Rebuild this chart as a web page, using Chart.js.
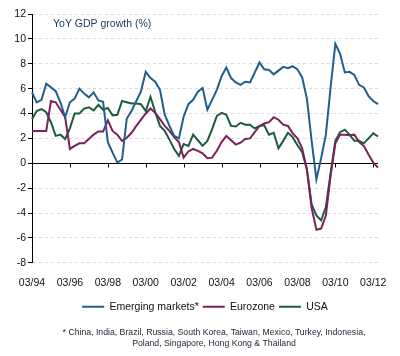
<!DOCTYPE html>
<html><head><meta charset="utf-8">
<script src="https://cdn.jsdelivr.net/npm/chart.js@4.4.0/dist/chart.umd.min.js"></script>
<style>html,body{margin:0;padding:0;background:#fff}</style>
</head><body>
<canvas id="c" width="400" height="356"></canvas>
<script>
const quarters = [
 "03/94","06/94","09/94","12/94","03/95","06/95","09/95","12/95",
 "03/96","06/96","09/96","12/96","03/97","06/97","09/97","12/97",
 "03/98","06/98","09/98","12/98","03/99","06/99","09/99","12/99",
 "03/00","06/00","09/00","12/00","03/01","06/01","09/01","12/01",
 "03/02","06/02","09/02","12/02","03/03","06/03","09/03","12/03",
 "03/04","06/04","09/04","12/04","03/05","06/05","09/05","12/05",
 "03/06","06/06","09/06","12/06","03/07","06/07","09/07","12/07",
 "03/08","06/08","09/08","12/08","03/09","06/09","09/09","12/09",
 "03/10","06/10","09/10","12/10","03/11","06/11","09/11","12/11",
 "03/12","06/12"];
const shownTicks = ["03/94","03/96","03/98","03/00","03/02","03/04","03/06","03/08","03/10","03/12"];
const emerging = [
 5.7,4.9,5.1,6.4,6.1,5.8,4.9,3.7,
 4.9,5.2,6.0,5.6,5.3,5.7,5.05,4.95,
 1.7,0.85,0.05,0.3,3.6,4.2,5.0,5.8,
 7.35,6.85,6.55,5.9,3.9,3.0,2.2,2.0,
 3.75,4.75,5.1,5.75,6.05,4.3,5.1,5.9,
 7.0,7.7,6.85,6.5,6.3,6.55,6.5,7.3,
 8.1,7.55,7.5,7.15,7.45,7.75,7.65,7.8,
 7.55,6.9,5.2,1.8,-1.3,0.4,2.3,6.1,
 9.6,8.8,7.3,7.35,7.1,6.3,6.1,5.4,
 5.0,4.75];
const eurozone = [
 2.6,2.6,2.6,2.6,5.0,4.9,4.3,3.7,
 1.15,1.4,1.6,1.6,1.95,2.3,2.55,2.55,
 3.45,2.6,2.3,1.8,2.05,2.45,3.0,3.5,
 4.0,4.4,4.05,3.55,3.0,2.6,2.1,1.7,
 0.45,0.95,1.15,1.0,0.8,0.4,0.45,1.0,
 1.7,2.2,1.85,1.5,1.65,1.95,2.0,2.5,
 3.0,3.2,3.3,3.7,3.5,3.1,3.0,2.4,
 2.0,1.2,-0.5,-3.6,-5.35,-5.25,-4.2,-1.0,
 1.6,2.3,2.3,2.25,2.3,1.7,1.4,0.7,
 0.05,-0.35];
const usa = [
 3.55,4.2,4.35,4.1,3.3,2.2,2.3,1.95,
 2.8,4.0,4.0,4.4,4.5,4.25,4.7,4.3,
 4.45,3.85,3.9,5.0,4.9,4.8,4.8,4.75,
 4.2,5.35,4.1,3.0,2.6,1.9,1.15,0.6,
 1.55,1.4,2.3,1.85,1.4,1.8,2.75,3.8,
 4.05,3.9,3.0,2.95,3.25,3.1,3.1,2.8,
 3.0,3.05,2.3,2.45,1.2,1.8,2.45,2.1,
 1.45,0.9,-0.5,-3.3,-4.2,-4.6,-3.5,-0.8,
 1.8,2.5,2.7,2.3,1.8,1.8,1.6,2.0,
 2.4,2.15];
const seriesNames = ["Emerging markets*","Eurozone","USA"];
const seriesColors = ["#1f5e8e","#7a2259","#1d5b3e"];
const chartTitle = "YoY GDP growth (%)";
const footnote = ["* China, India, Brazil, Russia, South Korea, Taiwan, Mexico, Turkey, Indonesia,",
                  "Poland, Singapore, Hong Kong & Thailand"];

const FONT = "'Liberation Sans', Arial, sans-serif";
const textColor = "#111";

const decor = {
  id: 'decor',
  beforeDatasetsDraw(chart) {
    const {ctx, chartArea, scales} = chart;
    const y0 = scales.y.getPixelForValue(0);
    ctx.save();
    ctx.strokeStyle = '#000';
    ctx.lineWidth = 1;
    ctx.beginPath();
    ctx.moveTo(chartArea.left, Math.round(y0) + 0.5);
    ctx.lineTo(chartArea.right, Math.round(y0) + 0.5);
    quarters.forEach((q, i) => {
      if (shownTicks.includes(q)) {
        const x = Math.round(scales.x.getPixelForValue(i)) + 0.5;
        ctx.moveTo(x, Math.round(y0) + 0.5);
        ctx.lineTo(x, Math.round(y0) + 4.5);
      }
    });
    ctx.stroke();
    ctx.restore();
  },
  afterDraw(chart) {
    const {ctx} = chart;
    ctx.save();
    ctx.fillStyle = '#17375e';
    ctx.font = "10.5px " + FONT;
    ctx.textAlign = 'left';
    ctx.textBaseline = 'middle';
    ctx.fillText(chartTitle, 53, 24);
    ctx.fillStyle = '#1a2233';
    ctx.font = "8.7px " + FONT;
    ctx.textAlign = 'center';
    ctx.fillText(footnote[0], 214, 332.5);
    ctx.fillText(footnote[1], 214, 343.5);
    ctx.restore();
  }
};

new Chart(document.getElementById('c'), {
  type: 'line',
  data: {
    labels: quarters,
    datasets: [emerging, eurozone, usa].map((d, i) => ({
      label: seriesNames[i], data: d,
      borderColor: seriesColors[i], backgroundColor: seriesColors[i],
      borderWidth: 2, pointRadius: 0, tension: 0, fill: false
    }))
  },
  options: {
    responsive: false, animation: false, devicePixelRatio: 1,
    layout: {padding: {top: 14, right: 22, bottom: 34, left: 0}},
    plugins: {
      tooltip: {enabled: false},
      title: {display: false},
      legend: {
        position: 'bottom', fullSize: false,
        labels: {
          boxWidth: 22, boxHeight: 2, padding: 4, color: textColor,
          font: {family: FONT, size: 10.5},
          generateLabels: (chart) => chart.data.datasets.map((d, i) => ({
            text: d.label, fillStyle: d.borderColor, strokeStyle: d.borderColor,
            lineWidth: 0, hidden: false, datasetIndex: i, fontColor: textColor
          }))
        }
      }
    },
    scales: {
      x: {
        type: 'category', offset: false,
        grid: {display: false}, border: {display: false},
        ticks: {autoSkip: false, maxRotation: 0, minRotation: 0, padding: 6, color: textColor,
          font: {family: FONT, size: 10.5},
          callback: (v, i) => shownTicks.includes(quarters[i]) ? quarters[i] : ''},
        afterFit: (s) => { s.height = 34.75; }
      },
      y: {
        min: -8, max: 12,
        ticks: {stepSize: 2, padding: 2, color: textColor, font: {family: FONT, size: 10.5}},
        grid: {color: '#dadada', lineWidth: 1, tickLength: 4, tickColor: '#000', tickBorderDash: [], drawTicks: true},
        border: {display: true, color: '#000', width: 1, dash: [3, 3]},
        afterFit: (s) => { s.width = 32; }
      }
    }
  },
  plugins: [decor]
});
</script>
</body></html>
